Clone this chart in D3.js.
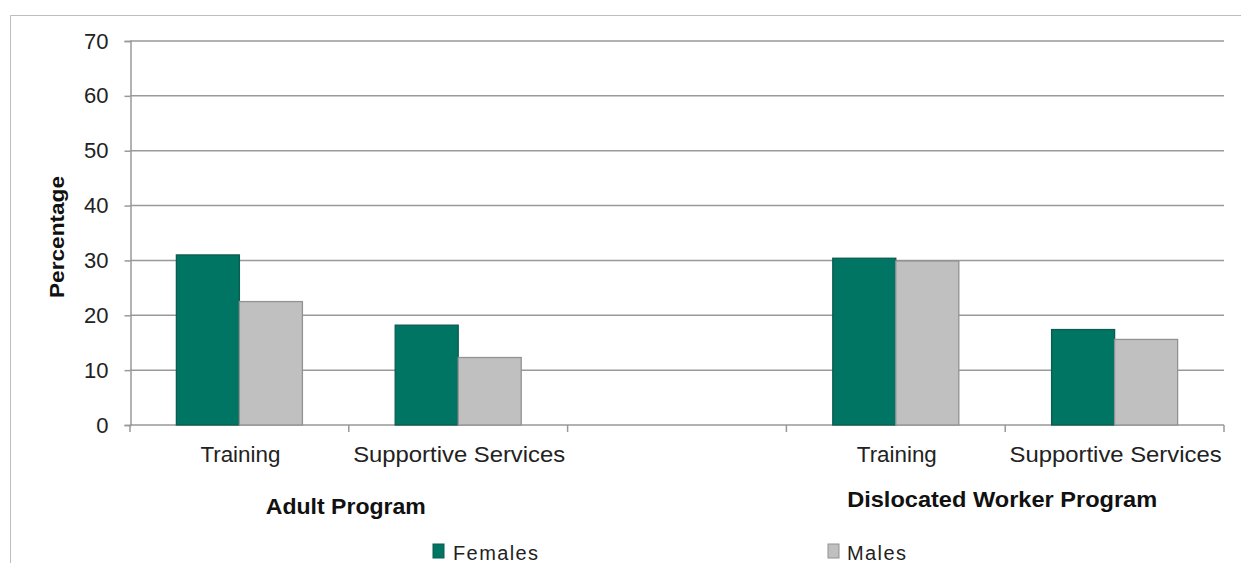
<!DOCTYPE html>
<html>
<head>
<meta charset="utf-8">
<script src="https://cdn.jsdelivr.net/npm/d3@7"></script>
<style>
  body { margin: 0; background: #fff; }
  svg { display: block; font-family: "Liberation Sans", Arial, sans-serif; }
</style>
</head>
<body>
<svg id="chart" width="1241" height="563"></svg>
<script>
// data
const categories = ["Training", "Supportive Services", "", "Training", "Supportive Services"];
const programs = ["Adult Program", "Dislocated Worker Program"];
const programSlots = [[0, 1], [3, 4]];
const series = ["Females", "Males"];
const females = [31.0, 18.2, null, 30.4, 17.4];
const males = [22.5, 12.3, null, 29.9, 15.6];
const yTicks = [0, 10, 20, 30, 40, 50, 60, 70];

const colors = { Females: "#007563", Males: "#c0c0c0" };
const strokes = { Females: "#0b5c50", Males: "#929292" };

const svg = d3.select("#chart");

// outer frame (clipped by the window on right & bottom)
svg.append("path")
  .attr("d", "M10.5,563 V15.5 H1241")
  .attr("fill", "none")
  .attr("stroke", "#bdbdbd")
  .attr("stroke-width", 1);

const x0 = d3.scaleBand()
  .domain(d3.range(categories.length))
  .range([130, 1224])
  .paddingInner(0)
  .paddingOuter(0);

const x1 = d3.scaleBand()
  .domain(series)
  .range([0, x0.bandwidth()])
  .paddingInner(0)
  .paddingOuter(0.736);

const y = d3.scaleLinear().domain([0, 70]).range([425, 41]);

// gridlines
svg.append("g")
  .selectAll("line")
  .data(yTicks)
  .join("line")
  .attr("x1", 130)
  .attr("x2", 1224)
  .attr("y1", (d) => y(d))
  .attr("y2", (d) => y(d))
  .attr("stroke", "#999")
  .attr("stroke-width", 1.5);

// y axis
const yAxis = svg.append("g")
  .attr("transform", "translate(130.5,0)")
  .call(d3.axisLeft(y).tickValues(yTicks).tickSize(6).tickPadding(16));
yAxis.select(".domain").attr("stroke", "#999").attr("stroke-width", 1.5);
yAxis.selectAll(".tick line").attr("stroke", "#999").attr("stroke-width", 1.5);
yAxis.selectAll(".tick text")
  .attr("fill", "#222")
  .style("font-size", "22px")
  .style("font-family", "Liberation Sans, Arial, sans-serif");

// x axis tick marks at slot boundaries
const bounds = d3.range(categories.length + 1).map((i) =>
  i < categories.length ? x0(i) : x0(i - 1) + x0.bandwidth()
);
svg.append("g")
  .selectAll("line")
  .data(bounds)
  .join("line")
  .attr("x1", (d) => d)
  .attr("x2", (d) => d)
  .attr("y1", y(0))
  .attr("y2", y(0) + 7)
  .attr("stroke", "#999")
  .attr("stroke-width", 1.5);

// bars
const rows = categories.map((c, i) => ({ i, Females: females[i], Males: males[i] }));
const groups = svg.append("g")
  .selectAll("g")
  .data(rows)
  .join("g")
  .attr("transform", (d) => `translate(${x0(d.i)},0)`);

groups.selectAll("rect")
  .data((d) => series.filter((s) => d[s] != null).map((s) => ({ key: s, value: d[s] })))
  .join("rect")
  .attr("x", (d) => x1(d.key))
  .attr("y", (d) => y(d.value))
  .attr("width", x1.bandwidth())
  .attr("height", (d) => y(0) - y(d.value))
  .attr("fill", (d) => colors[d.key])
  .attr("stroke", (d) => strokes[d.key])
  .attr("stroke-width", 1.3);

// category labels
svg.append("g")
  .selectAll("text")
  .data(categories)
  .join("text")
  .attr("x", (d, i) => x0(i) + x0.bandwidth() / 2 + 1)
  .attr("y", 462)
  .attr("text-anchor", "middle")
  .attr("fill", "#222")
  .style("font-size", "22px")
  .attr("textLength", (d) => (d.length > 10 ? 212 : d ? 80 : null))
  .attr("lengthAdjust", "spacingAndGlyphs")
  .text((d) => d);

// program labels
svg.append("g")
  .selectAll("text")
  .data(programs)
  .join("text")
  .attr("x", (d, i) => {
    const s = programSlots[i];
    return (x0(s[0]) + x0(s[1]) + x0.bandwidth()) / 2 - 3;
  })
  .attr("y", (d, i) => (i === 0 ? 514 : 507))
  .attr("text-anchor", "middle")
  .attr("fill", "#111")
  .style("font-size", "22px")
  .style("font-weight", "bold")
  .attr("textLength", (d, i) => (i === 0 ? 160 : 310))
  .attr("lengthAdjust", "spacingAndGlyphs")
  .text((d) => d);

// y axis title
svg.append("text")
  .attr("transform", "translate(64,237) rotate(-90)")
  .attr("text-anchor", "middle")
  .attr("fill", "#111")
  .style("font-size", "21px")
  .style("font-weight", "bold")
  .attr("textLength", 122)
  .attr("lengthAdjust", "spacingAndGlyphs")
  .text("Percentage");

// legend
const legendX = [433, 828];
const legend = svg.append("g")
  .selectAll("g")
  .data(series)
  .join("g")
  .attr("transform", (d, i) => `translate(${legendX[i]},0)`);

legend.append("rect")
  .attr("x", 0)
  .attr("y", 544)
  .attr("width", 11)
  .attr("height", 14)
  .attr("fill", (d) => colors[d])
  .attr("stroke", (d) => strokes[d])
  .attr("stroke-width", 1);

legend.append("text")
  .attr("x", (d, i) => (i === 0 ? 20 : 19))
  .attr("y", 560)
  .attr("fill", "#222")
  .style("font-size", "20px")
  .style("letter-spacing", "1.4px")
  .text((d) => d);
</script>
</body>
</html>
